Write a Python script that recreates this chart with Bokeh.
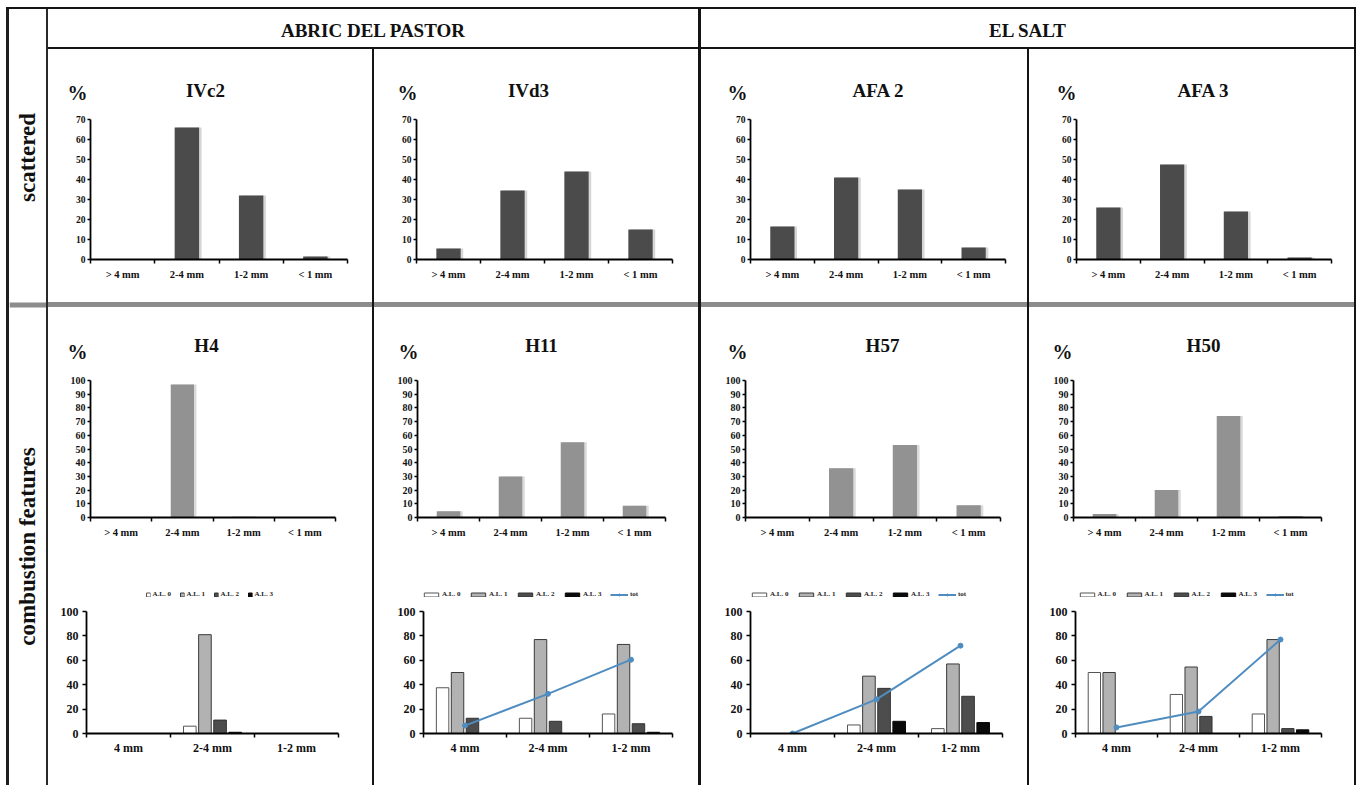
import numpy as np
from bokeh.plotting import figure
from bokeh.models import (Range1d, FixedTicker, SingleIntervalTicker,
                          Legend, LegendItem, Div)
from bokeh.layouts import row, column
from bokeh.embed import file_html
from bokeh.resources import INLINE
from bokeh.core.properties import value

FONT = "Liberation Serif"

# ---------------- data ----------------
sites = ["ABRIC DEL PASTOR", "EL SALT"]
row_labels = ["scattered", "combustion features"]

size_classes = ["> 4 mm", "2-4 mm", "1-2 mm", "< 1 mm"]

scattered_names = ["IVc2", "IVd3", "AFA 2", "AFA 3"]
scat_IVc2 = [0, 66, 32, 1.5]
scat_IVd3 = [5.5, 34.5, 44, 15]
scat_AFA2 = [16.5, 41, 35, 6]
scat_AFA3 = [26, 47.5, 24, 1]

combustion_names = ["H4", "H11", "H57", "H50"]
comb_H4 = [0, 97, 0.5, 0]
comb_H11 = [4.5, 30, 55, 8.5]
comb_H57 = [0, 36, 53, 9]
comb_H50 = [2.5, 20, 74, 1]

al_classes = ["4 mm", "2-4 mm", "1-2 mm"]
al_series = ["A.L. 0", "A.L. 1", "A.L. 2", "A.L. 3"]
tot_label = "tot"

H4_al0 = [0, 6, 0]
H4_al1 = [0, 81, 0]
H4_al2 = [0, 11, 0]
H4_al3 = [0, 1, 0]

H11_al0 = [37.5, 12.5, 16]
H11_al1 = [50, 77, 73]
H11_al2 = [12.5, 10, 8]
H11_al3 = [0, 0, 1]
H11_tot = [6.5, 32.5, 60.5]

H57_al0 = [0, 7, 4]
H57_al1 = [0, 47, 57]
H57_al2 = [0, 37, 30.5]
H57_al3 = [0, 10, 9]
H57_tot = [0, 28, 72]

H50_al0 = [50, 32, 16]
H50_al1 = [50, 54.5, 77]
H50_al2 = [0, 14, 4]
H50_al3 = [0, 0, 3]
H50_tot = [5, 18, 77]

# ---------------- layout constants (pixels) ----------------
PANEL_W = [324, 324, 326, 325]
PANEL_X0 = [48, 374, 701, 1029]          # page x of each panel's left edge
TOP_TXT_H, TOP_CH_H = 56, 197             # page 49..105..302
MID_TXT_H, MID_CH_H = 55, 195             # page 307..362..557
LEG_H, BOT_CH_H = 46, 182                 # page 557..603..785
HDR_H = 38
STRIP_W = 37
MAIN_H = 776
LINE = "#141414"
BAND = "#8c8c8c"
NAN = np.array([np.nan])


def bar(w, h, color):
    return Div(width=w, height=h, margin=0, styles={"background-color": color})


def blank_fig(w, h, flip=True):
    yr = Range1d(h, 0) if flip else Range1d(0, h)
    p = figure(width=w, height=h, x_range=Range1d(0, w), y_range=yr,
               x_axis_location=None, y_axis_location=None,
               output_backend="svg", toolbar_location=None, min_border=0,
               outline_line_color=None, background_fill_color="white",
               border_fill_color="white", frame_align=False)
    p.grid.visible = False
    return p


def chart_fig(w, h, xr, yr, left, right_end, top, bottom):
    p = figure(width=w, height=h, x_range=xr, y_range=yr,
               output_backend="svg", toolbar_location=None,
               min_border_left=left, min_border_right=w - right_end,
               min_border_top=top, min_border_bottom=bottom,
               background_fill_color="white", border_fill_color="white",
               outline_line_color=None, frame_align=False)
    p.xgrid.visible = False
    p.ygrid.visible = False
    return p


def style_axes(p, labels, yint, xfs, yfs, xstand, ystand, ytick_out):
    n = len(labels)
    centers = [i + 0.5 for i in range(n)]
    bounds = [float(i) for i in range(n + 1)]
    xa = p.xaxis[0]
    xa.ticker = FixedTicker(ticks=centers, minor_ticks=bounds)
    xa.major_label_overrides = {c: lab for c, lab in zip(centers, labels)}
    xa.major_tick_line_color = None
    xa.major_tick_out = 0
    xa.major_tick_in = 0
    xa.minor_tick_out = 4
    xa.minor_tick_in = 0
    xa.minor_tick_line_color = "black"
    xa.minor_tick_line_width = 1.5
    xa.axis_line_color = "black"
    xa.axis_line_width = 1.8
    xa.major_label_text_font = FONT
    xa.major_label_text_font_style = "bold"
    xa.major_label_text_font_size = xfs
    xa.major_label_text_color = "#111111"
    xa.major_label_standoff = xstand

    ya = p.yaxis[0]
    ya.ticker = SingleIntervalTicker(interval=yint, num_minor_ticks=0)
    ya.minor_tick_line_color = None
    ya.major_tick_out = ytick_out
    ya.major_tick_in = 0
    ya.major_tick_line_width = 1.5
    ya.major_tick_line_color = "black"
    ya.axis_line_color = "black"
    ya.axis_line_width = 1.8
    ya.major_label_text_font = FONT
    ya.major_label_text_font_style = "bold"
    ya.major_label_text_font_size = yfs
    ya.major_label_text_color = "#111111"
    ya.major_label_standoff = ystand
    return centers


def title_fig(w, h, title, tx, ty, px, py):
    p = blank_fig(w, h)
    p.text(x=[tx], y=[ty], text=[title], text_font=value(FONT),
           text_font_style="bold", text_font_size="19px", text_align="center",
           text_baseline="middle", text_color="#111111")
    p.text(x=[px], y=[py], text=["%"], text_font=value(FONT),
           text_font_style="bold", text_font_size="20px", text_align="center",
           text_baseline="middle", text_color="#111111")
    return p


def size_chart(vals, w, h, ymax, left, right_end, top, bottom, fill, shadow,
               xfs, yfs):
    p = chart_fig(w, h, Range1d(0, len(size_classes)), Range1d(0, ymax),
                  left, right_end, top, bottom)
    centers = style_axes(p, size_classes, 10, xfs, yfs, 5, 2, 3)
    p.vbar(x=[c + 0.04 for c in centers], top=vals, width=0.38,
           fill_color=shadow, line_color=None)
    p.vbar(x=centers, top=vals, width=0.38, fill_color=fill, line_color=None)
    return p


AL_FILL = ["white", "#b2b2b2", "#4d4d4d", "#0a0a0a"]
AL_LINE = ["#555555", "#3a3a3a", "#333333", "#0a0a0a"]
TOT_COLOR = "#4f8dc0"


def al_chart(series, tot, w, left, right_end):
    p = chart_fig(w, BOT_CH_H, Range1d(0, len(al_classes)), Range1d(0, 100),
                  left, right_end, 8, 52)
    centers = style_axes(p, al_classes, 20, "12px", "12px", 3, 4, 4)
    step, bw = 0.18, 0.15
    for j, vals in enumerate(series):
        xs = [c + (j - 1.5) * step for c in centers]
        p.vbar(x=xs, top=vals, width=bw, fill_color=AL_FILL[j],
               line_color=AL_LINE[j], line_width=1)
    if tot is not None:
        p.line(x=centers, y=tot, line_color=TOT_COLOR, line_width=2)
        p.scatter(x=centers, y=tot, marker="circle", size=5,
                  fill_color=TOT_COLOR, line_color=TOT_COLOR)
    return p


def legend_fig(w, with_tot):
    # legend-only renderers (no visible marks): a single NaN row each
    p = blank_fig(w, LEG_H, flip=False)
    items = []
    for j, name in enumerate(al_series):
        r = p.vbar(x=NAN, top=NAN, width=1, fill_color=AL_FILL[j],
                   line_color=AL_LINE[j], line_width=1)
        items.append(LegendItem(label=name, renderers=[r]))
    if with_tot:
        lr = p.line(x=NAN, y=NAN, line_color=TOT_COLOR, line_width=2)
        sr = p.scatter(x=NAN, y=NAN, marker="circle", size=5,
                       fill_color=TOT_COLOR, line_color=TOT_COLOR)
        items.append(LegendItem(label=tot_label, renderers=[lr, sr]))
    legend = Legend(items=items, orientation="horizontal",
                    location="bottom_center",
                    label_text_font=FONT, label_text_font_style="bold",
                    label_text_font_size="7px", label_text_color="#222222",
                    label_height=6, glyph_height=5,
                    glyph_width=18 if with_tot else 5,
                    label_standoff=2, spacing=7, padding=0, margin=5,
                    border_line_color=None, background_fill_alpha=0)
    p.add_layout(legend, "center")
    return p


# ---------------- panels ----------------
scat_vals = [scat_IVc2, scat_IVd3, scat_AFA2, scat_AFA3]
comb_vals = [comb_H4, comb_H11, comb_H57, comb_H50]
al_data = [
    ([H4_al0, H4_al1, H4_al2, H4_al3], None),
    ([H11_al0, H11_al1, H11_al2, H11_al3], H11_tot),
    ([H57_al0, H57_al1, H57_al2, H57_al3], H57_tot),
    ([H50_al0, H50_al1, H50_al2, H50_al3], H50_tot),
]

# page x positions
top_axis = [90, 416, 750, 1076]
top_end = [347, 672, 1005, 1331]
top_title = [205, 528, 878, 1203]
top_pct = [77, 407, 737, 1066]

mid_axis = [90, 417, 745, 1073]
mid_end = [335, 665, 1000, 1321]
mid_title = [206, 541, 882, 1203]
mid_pct = [77, 408, 737, 1062]

bot_axis = [86, 423, 750, 1075]
bot_end = [338, 672, 1002, 1321]

cols = []
for k in range(4):
    w, x0 = PANEL_W[k], PANEL_X0[k]
    t1 = title_fig(w, TOP_TXT_H, scattered_names[k], top_title[k] - x0, 90 - 49,
                   top_pct[k] - x0, 92 - 49)
    c1 = size_chart(scat_vals[k], w, TOP_CH_H, 70, top_axis[k] - x0,
                    top_end[k] - x0, 119 - 105, 302 - 259, "#4b4b4b", "#d6d6d6",
                    "10.5px", "9.5px")
    t2 = title_fig(w, MID_TXT_H, combustion_names[k], mid_title[k] - x0, 345 - 307,
                   mid_pct[k] - x0, 351 - 307)
    c2 = size_chart(comb_vals[k], w, MID_CH_H, 100, mid_axis[k] - x0,
                    mid_end[k] - x0, 380 - 362, 557 - 517, "#929292", "#dadada",
                    "10.5px", "10px")
    lg = legend_fig(w, al_data[k][1] is not None)
    c3 = al_chart(al_data[k][0], al_data[k][1], w, bot_axis[k] - x0,
                  bot_end[k] - x0)
    cols.append(column(t1, c1, bar(w, 5, BAND), t2, c2, lg, c3, spacing=0))

BODY_H = TOP_TXT_H + TOP_CH_H + 5 + MID_TXT_H + MID_CH_H + LEG_H + BOT_CH_H
body = row(cols[0], bar(2, BODY_H, LINE), cols[1], bar(3, BODY_H, LINE), cols[2],
           bar(2, BODY_H, LINE), cols[3], spacing=0)
RIGHT_W = sum(PANEL_W) + 2 + 3 + 2


def header_fig(text, w):
    p = blank_fig(w, HDR_H)
    p.text(x=[w / 2], y=[30 - 9], text=[text], text_font=value(FONT),
           text_font_style="bold", text_font_size="19px", text_align="center",
           text_baseline="middle", text_color="#111111")
    return p


W12 = PANEL_W[0] + 2 + PANEL_W[1]
W34 = PANEL_W[2] + 2 + PANEL_W[3]
hdr = row(header_fig(sites[0], W12), bar(3, HDR_H, LINE),
          header_fig(sites[1], W34), spacing=0)
right_area = column(hdr, bar(RIGHT_W, 2, LINE), body, spacing=0)

strip = blank_fig(STRIP_W, MAIN_H, flip=False)
band_top = 302 - 9
strip.quad(left=[0], right=[STRIP_W], top=[MAIN_H - band_top],
           bottom=[MAIN_H - band_top - 5], fill_color=BAND, line_color=None)
strip.text(x=[18, 18], y=[MAIN_H - (157 - 9), MAIN_H - (546 - 9)],
           text=row_labels, angle=np.pi / 2, text_font=value(FONT),
           text_font_style="bold", text_font_size="23px", text_align="center",
           text_baseline="middle", text_color="#111111")

main_row = row(bar(6, MAIN_H, "white"), bar(3, MAIN_H, "#1e1e1e"), strip,
               bar(2, MAIN_H, "#2a2a2a"), right_area, bar(2, MAIN_H, LINE),
               spacing=0)
FULL_W = 6 + 3 + STRIP_W + 2 + RIGHT_W + 2
layout = column(bar(FULL_W, 7, "white"),
                row(bar(6, 2, "white"), bar(FULL_W - 6, 2, LINE), spacing=0),
                main_row, spacing=0)

open("out.html", "w").write(file_html(layout, INLINE))
